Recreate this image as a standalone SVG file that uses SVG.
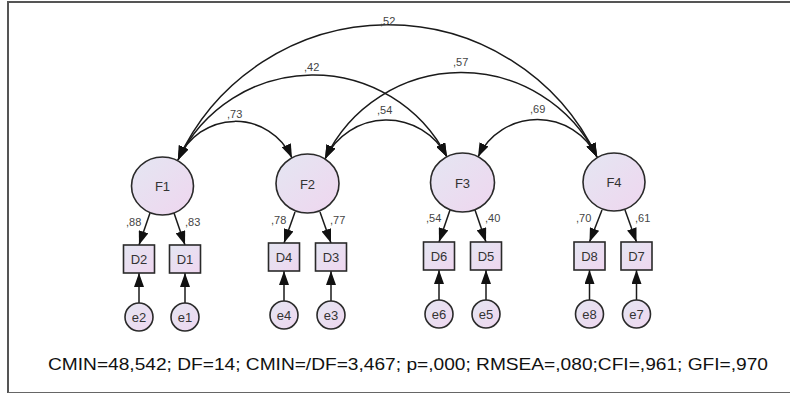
<svg xmlns="http://www.w3.org/2000/svg" width="790" height="394" viewBox="0 0 790 394">
<defs>
<linearGradient id="g" x1="0" y1="0" x2="1" y2="1">
<stop offset="0" stop-color="#e4e6f2"/>
<stop offset="1" stop-color="#efd6ef"/>
</linearGradient>
<marker id="ah" viewBox="0 0 14 10" refX="14" refY="5" markerWidth="14" markerHeight="10" markerUnits="userSpaceOnUse" orient="auto-start-reverse">
<path d="M0,0 L14,5 L0,10 z" fill="#111"/>
</marker>
</defs>
<style>
.n{fill:url(#g);stroke:#2a2a2a;stroke-width:1.6}
.t{font-family:"Liberation Sans",Arial,sans-serif;fill:#333;text-anchor:middle}
.big{font-size:13px}
.lab{font-family:"Liberation Sans",Arial,sans-serif;fill:#444;font-size:11px}
.c{fill:none;stroke:#1a1a1a;stroke-width:1.5}
.cov{marker-start:url(#ah);marker-end:url(#ah)}
.one{marker-end:url(#ah)}
</style>
<rect x="0" y="0" width="790" height="394" fill="#fff"/>
<path d="M8,393 L8,2 L792,2" fill="none" stroke="#555" stroke-width="2"/>
<path d="M8,392.5 L792,392.5" fill="none" stroke="#666" stroke-width="1"/>

<g id="connectors">
<path class="c cov" d="M178,160 A231,231 0 0 1 597,157"/>
<path class="c cov" d="M178,160 A150,150 0 0 1 447,157"/>
<path class="c cov" d="M178,160 A62,62 0 0 1 292,158"/>
<path class="c cov" d="M325,159 A151,151 0 0 1 597,157"/>
<path class="c cov" d="M325,159 A68,68 0 0 1 447,157"/>
<path class="c cov" d="M478,157 A66,66 0 0 1 597,157"/>
<path class="c one" d="M150,213 L139,245"/>
<path class="c one" d="M174,213 L185,245"/>
<path class="c one" d="M295,212 L284,243"/>
<path class="c one" d="M320,212 L331,243"/>
<path class="c one" d="M450,210 L439,242"/>
<path class="c one" d="M475,210 L486,242"/>
<path class="c one" d="M602,210 L589.5,242"/>
<path class="c one" d="M625,210 L636.5,242"/>
<path class="c one" d="M139,303 L139,273"/>
<path class="c one" d="M185,303 L185,273"/>
<path class="c one" d="M284,301 L284,271"/>
<path class="c one" d="M331,301 L331,271"/>
<path class="c one" d="M439,300 L439,270"/>
<path class="c one" d="M486,300 L486,270"/>
<path class="c one" d="M589.5,300 L589.5,270"/>
<path class="c one" d="M636.5,300 L636.5,270"/>
<text class="lab" x="380" y="25">,52</text>
<text class="lab" x="304" y="71">,42</text>
<text class="lab" x="453" y="66">,57</text>
<text class="lab" x="227" y="118">,73</text>
<text class="lab" x="377" y="114">,54</text>
<text class="lab" x="530" y="113">,69</text>
<text class="lab" x="126" y="226">,88</text>
<text class="lab" x="185" y="226">,83</text>
<text class="lab" x="271" y="224">,78</text>
<text class="lab" x="330" y="224">,77</text>
<text class="lab" x="426" y="222">,54</text>
<text class="lab" x="485" y="222">,40</text>
<text class="lab" x="576" y="222">,70</text>
<text class="lab" x="635" y="222">,61</text>
</g>

<g id="F1"><ellipse class="n" cx="162.5" cy="186" rx="31" ry="29"/><text class="t big" x="162.5" y="191">F1</text></g>
<g id="F2"><ellipse class="n" cx="307.5" cy="183.5" rx="31.5" ry="29.5"/><text class="t big" x="307.5" y="188.5">F2</text></g>
<g id="F3"><ellipse class="n" cx="462.5" cy="182.5" rx="32" ry="29.5"/><text class="t big" x="462.5" y="187.5">F3</text></g>
<g id="F4"><ellipse class="n" cx="614" cy="182" rx="31" ry="29"/><text class="t big" x="614" y="187">F4</text></g>

<g id="D2"><rect class="n" x="123.5" y="245" width="31" height="28"/><text class="t big" x="139" y="264">D2</text></g>
<g id="D1"><rect class="n" x="169.5" y="245" width="31" height="28"/><text class="t big" x="185" y="264">D1</text></g>
<g id="D4"><rect class="n" x="268.5" y="243" width="31" height="28"/><text class="t big" x="284" y="262">D4</text></g>
<g id="D3"><rect class="n" x="315.5" y="243" width="31" height="28"/><text class="t big" x="331" y="262">D3</text></g>
<g id="D6"><rect class="n" x="423.5" y="242" width="31" height="28"/><text class="t big" x="439" y="261">D6</text></g>
<g id="D5"><rect class="n" x="470.5" y="242" width="31" height="28"/><text class="t big" x="486" y="261">D5</text></g>
<g id="D8"><rect class="n" x="574" y="242" width="31" height="28"/><text class="t big" x="589.5" y="261">D8</text></g>
<g id="D7"><rect class="n" x="621" y="242" width="31" height="28"/><text class="t big" x="636.5" y="261">D7</text></g>

<g id="e2"><circle class="n" cx="139" cy="317" r="14"/><text class="t big" x="139" y="322">e2</text></g>
<g id="e1"><circle class="n" cx="185" cy="317" r="14"/><text class="t big" x="185" y="322">e1</text></g>
<g id="e4"><circle class="n" cx="284" cy="315" r="14"/><text class="t big" x="284" y="320">e4</text></g>
<g id="e3"><circle class="n" cx="331" cy="315" r="14"/><text class="t big" x="331" y="320">e3</text></g>
<g id="e6"><circle class="n" cx="439" cy="314" r="14"/><text class="t big" x="439" y="319">e6</text></g>
<g id="e5"><circle class="n" cx="486" cy="314" r="14"/><text class="t big" x="486" y="319">e5</text></g>
<g id="e8"><circle class="n" cx="589.5" cy="314" r="14"/><text class="t big" x="589.5" y="319">e8</text></g>
<g id="e7"><circle class="n" cx="636.5" cy="314" r="14"/><text class="t big" x="636.5" y="319">e7</text></g>

<text x="48" y="370" font-family="'Liberation Sans',Arial,sans-serif" font-size="17" fill="#111" textLength="720" lengthAdjust="spacingAndGlyphs">CMIN=48,542; DF=14; CMIN=/DF=3,467; p=,000; RMSEA=,080;CFI=,961; GFI=,970</text>
</svg>
